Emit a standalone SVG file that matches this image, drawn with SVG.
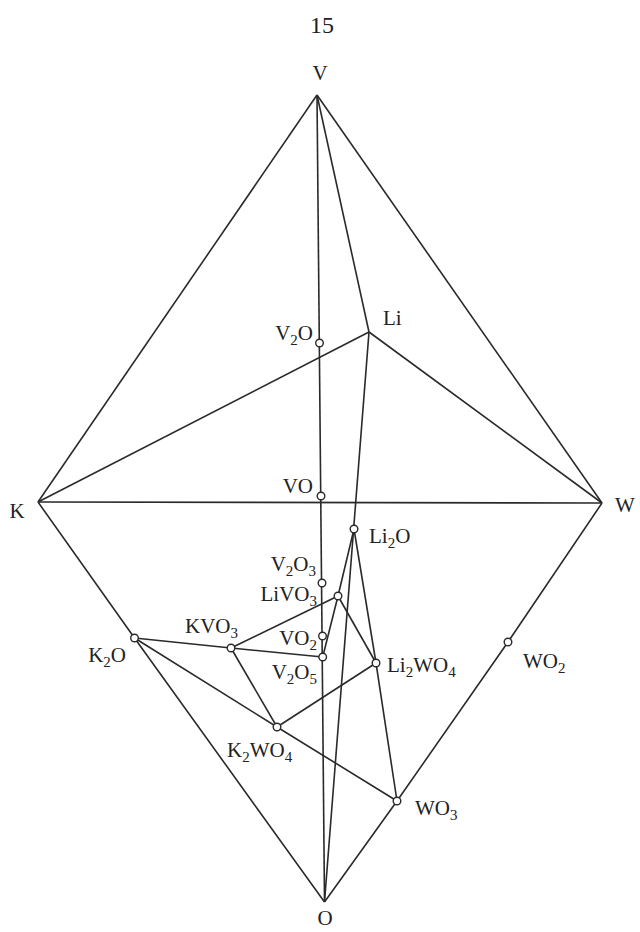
<svg xmlns="http://www.w3.org/2000/svg" width="640" height="932" viewBox="0 0 640 932">
<style>
.ln{fill:none;stroke:#2a2a2a;stroke-width:1.6;stroke-linejoin:round}
.pt{fill:#fff;stroke:#2a2a2a;stroke-width:1.4}
text{font-family:"Liberation Serif","Times New Roman",serif;font-size:21px;fill:#222}
.sub{font-size:15px}
</style>
<rect width="640" height="932" fill="#fff"/>
<text x="322" y="33" text-anchor="middle" style="font-size:24px">15</text>
<g id="connectors">
<line class="ln" x1="317" y1="95" x2="38" y2="502"/>
<line class="ln" x1="317" y1="95" x2="602" y2="503"/>
<line class="ln" x1="38" y1="502" x2="602" y2="503"/>
<line class="ln" x1="317" y1="95" x2="324.5" y2="902"/>
<line class="ln" x1="317" y1="95" x2="369" y2="332"/>
<line class="ln" x1="369" y1="332" x2="38" y2="502"/>
<line class="ln" x1="369" y1="332" x2="602" y2="503"/>
<line class="ln" x1="369" y1="332" x2="324.5" y2="902"/>
<polyline class="ln" points="38,502 134.5,638 324.5,902"/>
<polyline class="ln" points="602,503 508,642 397,801 324.5,902"/>
<polyline class="ln" points="134.5,638 231,648 322.7,657"/>
<polyline class="ln" points="354,529 338,596 322.7,657"/>
<polyline class="ln" points="354,529 376,663 397,801"/>
<polyline class="ln" points="134.5,638 277,727 397,801"/>
<line class="ln" x1="231" y1="648" x2="338" y2="596"/>
<line class="ln" x1="231" y1="648" x2="277" y2="727"/>
<line class="ln" x1="338" y1="596" x2="376" y2="663"/>
<line class="ln" x1="277" y1="727" x2="376" y2="663"/>
</g>
<g id="node-V"><text x="320" y="80" text-anchor="middle">V</text></g>
<g id="node-Li"><text x="383" y="325">Li</text></g>
<g id="node-K"><text x="17" y="518" text-anchor="middle">K</text></g>
<g id="node-W"><text x="615" y="512">W</text></g>
<g id="node-O"><text x="325" y="925" text-anchor="middle">O</text></g>
<g id="node-V2O"><circle class="pt" cx="319.5" cy="343" r="3.8"/><text x="313" y="340" text-anchor="end">V<tspan class="sub" dy="5">2</tspan><tspan dy="-5">O</tspan></text></g>
<g id="node-VO"><circle class="pt" cx="321" cy="496" r="3.8"/><text x="313" y="493" text-anchor="end">VO</text></g>
<g id="node-V2O3"><circle class="pt" cx="322" cy="583" r="3.8"/><text x="316" y="571" text-anchor="end">V<tspan class="sub" dy="5">2</tspan><tspan dy="-5">O</tspan><tspan class="sub" dy="5">3</tspan></text></g>
<g id="node-LiVO3"><circle class="pt" cx="338" cy="596" r="3.8"/><text x="317" y="601" text-anchor="end">LiVO<tspan class="sub" dy="5">3</tspan></text></g>
<g id="node-VO2"><circle class="pt" cx="322.5" cy="636" r="3.8"/><text x="317" y="645" text-anchor="end">VO<tspan class="sub" dy="5">2</tspan></text></g>
<g id="node-V2O5"><circle class="pt" cx="322.7" cy="657" r="3.8"/><text x="317" y="679" text-anchor="end">V<tspan class="sub" dy="5">2</tspan><tspan dy="-5">O</tspan><tspan class="sub" dy="5">5</tspan></text></g>
<g id="node-Li2O"><circle class="pt" cx="354" cy="529" r="3.8"/><text x="369" y="543">Li<tspan class="sub" dy="5">2</tspan><tspan dy="-5">O</tspan></text></g>
<g id="node-KVO3"><circle class="pt" cx="231" cy="648" r="3.8"/><text x="185" y="633">KVO<tspan class="sub" dy="5">3</tspan></text></g>
<g id="node-K2O"><circle class="pt" cx="134.5" cy="638" r="3.8"/><text x="126" y="662" text-anchor="end">K<tspan class="sub" dy="5">2</tspan><tspan dy="-5">O</tspan></text></g>
<g id="node-Li2WO4"><circle class="pt" cx="376" cy="663" r="3.8"/><text x="387" y="672">Li<tspan class="sub" dy="5">2</tspan><tspan dy="-5">WO</tspan><tspan class="sub" dy="5">4</tspan></text></g>
<g id="node-WO2"><circle class="pt" cx="508" cy="642" r="3.8"/><text x="523" y="668">WO<tspan class="sub" dy="5">2</tspan></text></g>
<g id="node-K2WO4"><circle class="pt" cx="277" cy="727" r="3.8"/><text x="227" y="757">K<tspan class="sub" dy="5">2</tspan><tspan dy="-5">WO</tspan><tspan class="sub" dy="5">4</tspan></text></g>
<g id="node-WO3"><circle class="pt" cx="397" cy="801" r="3.8"/><text x="415" y="815">WO<tspan class="sub" dy="5">3</tspan></text></g>
</svg>
